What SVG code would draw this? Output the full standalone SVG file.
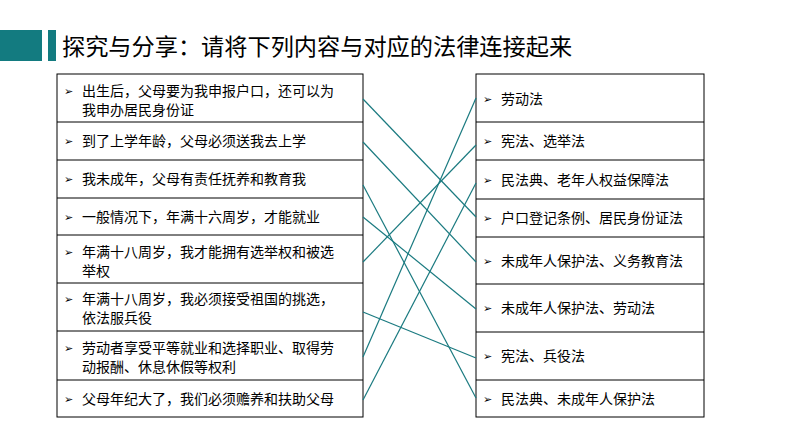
<svg xmlns="http://www.w3.org/2000/svg" width="794" height="447" viewBox="0 0 794 447">
<style>
text{font-family:"Noto Sans CJK SC","Liberation Sans",sans-serif;fill:#000}
.t{font-size:14px}
.k{font-size:11px;font-family:"DejaVu Sans",sans-serif}
.b{fill:#fff;stroke:#000;stroke-width:1}
.c line{stroke:#1a7a80;stroke-width:1.2}
</style>
<rect width="794" height="447" fill="#fff"/>
<rect x="0" y="30" width="42" height="31" fill="#137b80"/>
<rect x="48" y="30" width="8" height="31" fill="#137b80"/>
<text x="62" y="55" font-size="23.2">探究与分享：请将下列内容与对应的法律连接起来</text>
<g id="left">
<rect class="b" x="57" y="74" width="306" height="343"/>
<path d="M57 122H363M57 160H363M57 198H363M57 235H363M57 283H363M57 331H363M57 380H363" stroke="#000"/>
</g>
<g id="l1"><text class="k" x="64" y="95">➢</text><text class="t" x="82" y="96">出生后，父母要为我申报户口，还可以为</text><text class="t" x="82" y="115">我申办居民身份证</text></g>
<g id="l2"><text class="k" x="64" y="145">➢</text><text class="t" x="82" y="146">到了上学年龄，父母必须送我去上学</text></g>
<g id="l3"><text class="k" x="64" y="183">➢</text><text class="t" x="82" y="184">我未成年，父母有责任抚养和教育我</text></g>
<g id="l4"><text class="k" x="64" y="221">➢</text><text class="t" x="82" y="222">一般情况下，年满十六周岁，才能就业</text></g>
<g id="l5"><text class="k" x="64" y="256">➢</text><text class="t" x="82" y="257">年满十八周岁，我才能拥有选举权和被选</text><text class="t" x="82" y="276">举权</text></g>
<g id="l6"><text class="k" x="64" y="303">➢</text><text class="t" x="82" y="304">年满十八周岁，我必须接受祖国的挑选，</text><text class="t" x="82" y="323">依法服兵役</text></g>
<g id="l7"><text class="k" x="64" y="352">➢</text><text class="t" x="82" y="353">劳动者享受平等就业和选择职业、取得劳</text><text class="t" x="82" y="372">动报酬、休息休假等权利</text></g>
<g id="l8"><text class="k" x="64" y="403">➢</text><text class="t" x="82" y="404">父母年纪大了，我们必须赡养和扶助父母</text></g>
<g id="right">
<rect class="b" x="476" y="74" width="228" height="343"/>
<path d="M476 122H704M476 160H704M476 199H704M476 237H704M476 284H704M476 332H704M476 380H704" stroke="#000"/>
</g>
<g id="r1"><text class="k" x="483" y="103">➢</text><text class="t" x="501" y="104">劳动法</text></g>
<g id="r2"><text class="k" x="483" y="145">➢</text><text class="t" x="501" y="146">宪法、选举法</text></g>
<g id="r3"><text class="k" x="483" y="184">➢</text><text class="t" x="501" y="185">民法典、老年人权益保障法</text></g>
<g id="r4"><text class="k" x="483" y="222">➢</text><text class="t" x="501" y="223">户口登记条例、居民身份证法</text></g>
<g id="r5"><text class="k" x="483" y="265">➢</text><text class="t" x="501" y="266">未成年人保护法、义务教育法</text></g>
<g id="r6"><text class="k" x="483" y="312">➢</text><text class="t" x="501" y="313">未成年人保护法、劳动法</text></g>
<g id="r7"><text class="k" x="483" y="360">➢</text><text class="t" x="501" y="361">宪法、兵役法</text></g>
<g id="r8"><text class="k" x="483" y="403">➢</text><text class="t" x="501" y="404">民法典、未成年人保护法</text></g>
<g id="connectors" class="c">
<line x1="363" y1="99" x2="476" y2="217"/>
<line x1="363" y1="142" x2="476" y2="262"/>
<line x1="363" y1="185" x2="476" y2="398"/>
<line x1="363" y1="217" x2="476" y2="309"/>
<line x1="363" y1="262" x2="476" y2="145"/>
<line x1="363" y1="312" x2="476" y2="358"/>
<line x1="363" y1="357" x2="476" y2="98"/>
<line x1="363" y1="400" x2="476" y2="183"/>
</g>
</svg>
